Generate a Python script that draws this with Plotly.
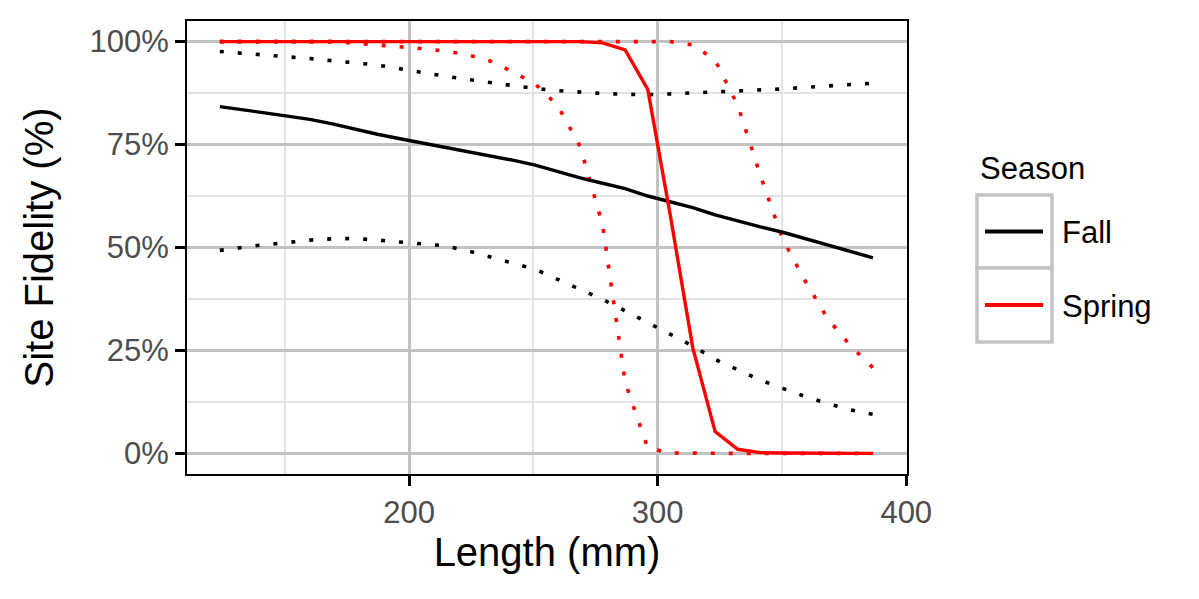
import plotly.graph_objects as go

# Data
length_mm = [123.8, 132.9, 141.9, 151.0, 160.0, 169.1, 178.2, 187.2, 196.3, 205.3,
             214.4, 223.5, 232.5, 241.6, 250.7, 259.7, 268.8, 277.8, 286.9, 296.0,
             305.0, 314.1, 323.1, 332.2, 341.3, 350.3, 359.4, 368.4, 377.5, 386.6]

fall_fit = [84.2, 83.5, 82.7, 81.9, 81.1, 80.0, 78.7, 77.5, 76.4, 75.4,
            74.4, 73.4, 72.3, 71.2, 70.0, 68.4, 66.9, 65.6, 64.3, 62.5,
            61.1, 59.7, 57.9, 56.4, 55.0, 53.7, 52.1, 50.6, 49.1, 47.5]
fall_upper = [97.6, 97.1, 96.7, 96.3, 95.9, 95.4, 94.9, 94.3, 93.4, 92.4,
              91.6, 90.8, 90.0, 89.3, 88.6, 88.1, 87.7, 87.4, 87.2, 87.1,
              87.3, 87.5, 87.7, 87.9, 88.2, 88.5, 88.9, 89.3, 89.6, 89.9]
fall_lower = [49.3, 50.1, 50.7, 51.2, 51.8, 52.1, 52.2, 51.8, 51.3, 51.0,
              50.4, 49.2, 47.6, 46.2, 44.7, 42.3, 40.0, 37.4, 34.6, 31.7,
              29.0, 26.1, 22.8, 20.3, 17.8, 15.8, 13.8, 12.1, 10.6, 9.5]

spring_fit = [100, 100, 100, 100, 100, 100, 100, 100, 100, 100,
              100, 100, 100, 100, 100, 100, 100, 99.7, 98.0, 88.4,
              58.0, 25.7, 5.3, 1.0, 0.2, 0.1, 0, 0, 0, 0]
spring_upper = [100, 100, 100, 100, 100, 100, 100, 100, 100, 100,
                100, 100, 100, 100, 100, 100, 100, 100, 100, 100,
                100, 99.2, 95.5, 84.5, 67.5, 52.0, 41.8, 32.7, 26.2, 20.8]
spring_lower = [100, 100, 100, 100, 100, 100, 99.6, 99.2, 98.7, 98.3,
                97.7, 96.8, 95.3, 92.7, 89.7, 84.5, 74.5, 55.5, 17.3, 1.3,
                0.1, 0, 0, 0, 0, 0, 0, 0, 0, 0]

seasons = ["Fall", "Spring"]
colors = {"Fall": "#000000", "Spring": "#FF0000"}
x_ticks = [200, 300, 400]
y_ticks = [0, 25, 50, 75, 100]
y_ticktext = ["0%", "25%", "50%", "75%", "100%"]

FONT = "Liberation Sans, Arial, Helvetica, sans-serif"
DOT = "4px,14px"

fig = go.Figure()
series = {
    "Fall": (fall_fit, fall_upper, fall_lower),
    "Spring": (spring_fit, spring_upper, spring_lower),
}
# confidence bounds (dotted)
for s in seasons:
    fit, up, lo = series[s]
    for bound in (up, lo):
        fig.add_trace(go.Scatter(x=length_mm, y=bound, mode="lines",
                                 line=dict(color=colors[s], width=3.6, dash=DOT),
                                 showlegend=False, hoverinfo="skip"))
# fitted (solid)
for s in seasons:
    fit, up, lo = series[s]
    fig.add_trace(go.Scatter(x=length_mm, y=fit, mode="lines", name=s,
                             line=dict(color=colors[s], width=3.4),
                             showlegend=False))

axis_common = dict(
    showline=True, linecolor="black", linewidth=2, mirror=True,
    ticks="outside", ticklen=10, tickwidth=3, tickcolor="black",
    tickfont=dict(family=FONT, size=31, color="#4D4D4D"),
    showgrid=True, gridcolor="#C2C2C2", gridwidth=3,
    zeroline=False,
)

fig.update_xaxes(
    range=[110.6, 400.3], tickvals=x_ticks,
    minor=dict(dtick=50, tick0=0, showgrid=True, gridcolor="#E3E3E3", gridwidth=1.5),
    title=dict(text="Length (mm)", font=dict(family=FONT, size=40, color="black"), standoff=9),
    **axis_common,
)
fig.update_yaxes(
    range=[-5, 105], tickvals=y_ticks, ticktext=y_ticktext,
    minor=dict(dtick=12.5, tick0=0, showgrid=True, gridcolor="#E3E3E3", gridwidth=1.5),
    title=dict(text="Site Fidelity (%)", font=dict(family=FONT, size=40, color="black"), standoff=24),
    **axis_common,
)

# Legend drawn manually to match ggplot-style keyed boxes (paper coords via pixels)
W, H = 1199, 599
L, R, T, B = 187, 292, 21, 125
pw, ph = W - L - R, H - T - B


def px_to_paper(px, py):
    return (px - L) / pw, 1 - (py - T) / ph


shapes = []
annotations = []
key_boxes = [(977, 195, 1052, 268), (977, 268, 1052, 342)]
for (x0, y0, x1, y1), s in zip(key_boxes, seasons):
    a0, b0 = px_to_paper(x0, y0)
    a1, b1 = px_to_paper(x1, y1)
    shapes.append(dict(type="rect", xref="paper", yref="paper", x0=a0, y0=b1, x1=a1, y1=b0,
                       line=dict(color="#C4C4C4", width=3.5), fillcolor="white", layer="above"))
    ym = (y0 + y1) / 2
    la, lb = px_to_paper(985, ym)
    lc, _ = px_to_paper(1043, ym)
    shapes.append(dict(type="line", xref="paper", yref="paper", x0=la, y0=lb, x1=lc, y1=lb,
                       line=dict(color=colors[s], width=3.8), layer="above"))
    ta, tb = px_to_paper(1060, ym + 1)
    annotations.append(dict(xref="paper", yref="paper", x=ta, y=tb, text=s, showarrow=False,
                            xanchor="left", yanchor="middle",
                            font=dict(family=FONT, size=31, color="black")))
ta, tb = px_to_paper(978, 168)
annotations.append(dict(xref="paper", yref="paper", x=ta, y=tb, text="Season", showarrow=False,
                        xanchor="left", yanchor="middle",
                        font=dict(family=FONT, size=31, color="black")))

fig.update_layout(
    width=W, height=H,
    margin=dict(l=L, r=R, t=T, b=B, autoexpand=False),
    paper_bgcolor="white", plot_bgcolor="white",
    showlegend=False,
    shapes=shapes, annotations=annotations,
    font=dict(family=FONT),
)

fig.write_html("out.html")
